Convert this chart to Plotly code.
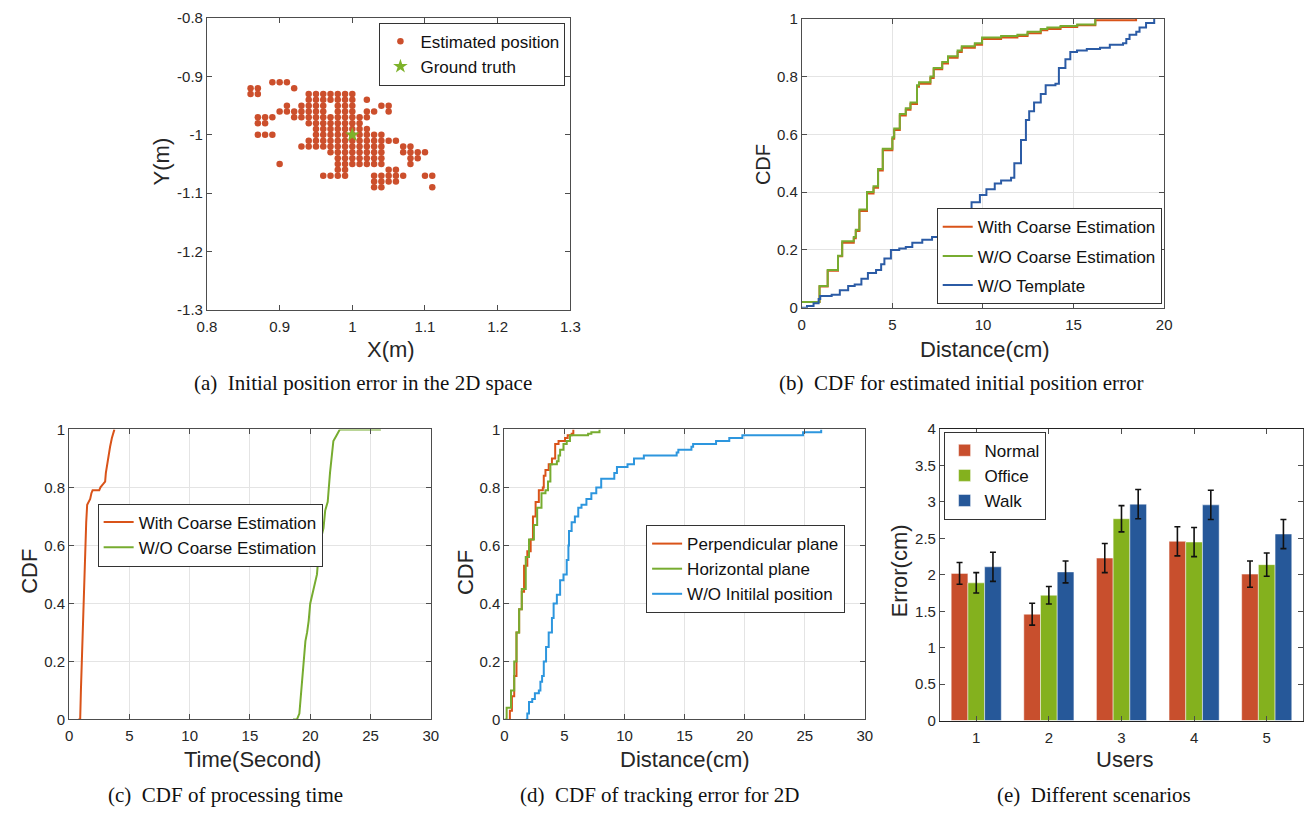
import plotly.graph_objects as go

# ---------------- (a) estimated initial positions ----------------
est_y_levels = [-0.91, -0.92, -0.93, -0.94, -0.95, -0.96, -0.97, -0.98, -0.99, -1.00,
                -1.01, -1.02, -1.03, -1.04, -1.05, -1.06, -1.07, -1.08, -1.09]
est_x_rows = [
    [0.89, 0.90, 0.91],
    [0.86, 0.87, 0.92],
    [0.86, 0.87, 0.94, 0.95, 0.96, 0.97, 0.98, 0.99, 1.00],
    [0.94, 0.95, 0.96, 0.97, 0.98, 0.99, 1.00, 1.02],
    [0.91, 0.93, 0.94, 0.95, 0.96, 0.98, 0.99, 1.00, 1.04, 1.05],
    [0.90, 0.91, 0.92, 0.93, 0.94, 0.95, 0.96, 0.98, 0.99, 1.00, 1.02, 1.03, 1.05],
    [0.87, 0.88, 0.89, 0.92, 0.93, 0.94, 0.95, 0.96, 0.97, 0.98, 0.99, 1.00, 1.01, 1.02],
    [0.87, 0.88, 0.94, 0.95, 0.96, 0.97, 0.98, 0.99, 1.00, 1.01],
    [0.95, 0.96, 0.97, 0.98, 0.99, 1.00, 1.01, 1.02],
    [0.87, 0.88, 0.89, 0.95, 0.96, 0.97, 0.98, 0.99, 1.00, 1.01, 1.02, 1.03, 1.04],
    [0.94, 0.95, 0.96, 0.97, 0.98, 0.99, 1.00, 1.01, 1.02, 1.03, 1.04, 1.05, 1.06],
    [0.93, 0.94, 0.95, 0.96, 0.97, 0.98, 0.99, 1.00, 1.01, 1.02, 1.03, 1.04, 1.07, 1.08],
    [0.97, 0.98, 0.99, 1.00, 1.01, 1.02, 1.03, 1.04, 1.07, 1.08, 1.09, 1.10],
    [0.98, 0.99, 1.00, 1.01, 1.02, 1.03, 1.04, 1.08, 1.09],
    [0.90, 0.98, 0.99, 1.00, 1.01, 1.02, 1.03, 1.04, 1.08],
    [0.98, 0.99, 1.05, 1.06],
    [0.96, 0.97, 0.98, 0.99, 1.03, 1.04, 1.05, 1.06, 1.07, 1.10, 1.11],
    [1.03, 1.04, 1.05, 1.06],
    [1.03, 1.04, 1.11],
]
truth_x = [1.0]
truth_y = [-1.0]
a_xticks = [0.8, 0.9, 1.0, 1.1, 1.2, 1.3]
a_xlabels = ["0.8", "0.9", "1", "1.1", "1.2", "1.3"]
a_yticks = [-0.8, -0.9, -1.0, -1.1, -1.2, -1.3]
a_ylabels = ["-0.8", "-0.9", "-1", "-1.1", "-1.2", "-1.3"]

# ---------------- (b) CDF of initial position error (cm) ----------------
b_with_x = [0, 0.98, 1.43, 2.0, 2.23, 2.87, 2.98, 3.18, 3.6, 3.96, 4.21, 4.47, 5.0, 5.1, 5.41,
            5.74, 6.0, 6.36, 6.47, 7.1, 7.28, 7.75, 8.07, 8.6, 8.83, 9.55, 9.95, 11.0, 11.9,
            12.46, 13.19, 13.55, 14.28, 15.2, 16.2, 18.45]
b_with_y = [0.02, 0.073, 0.128, 0.178, 0.225, 0.24, 0.265, 0.335, 0.395, 0.415, 0.475, 0.545,
            0.585, 0.615, 0.665, 0.685, 0.705, 0.765, 0.775, 0.795, 0.825, 0.845, 0.865, 0.885,
            0.9, 0.91, 0.93, 0.935, 0.94, 0.95, 0.96, 0.965, 0.972, 0.978, 0.995, 1.0]
b_wo_x = [0, 0.98, 1.43, 2.0, 2.23, 2.87, 2.98, 3.18, 3.6, 3.96, 4.21, 4.47, 5.0, 5.1, 5.41,
          5.74, 6.0, 6.36, 6.47, 7.1, 7.28, 7.75, 8.07, 8.6, 8.83, 9.55, 9.95, 11.0, 11.9,
          12.46, 13.19, 13.55, 14.28, 15.2, 16.2]
b_wo_y = [0.02, 0.075, 0.13, 0.18, 0.23, 0.245, 0.27, 0.34, 0.40, 0.42, 0.48, 0.55, 0.59, 0.62,
          0.67, 0.69, 0.71, 0.77, 0.78, 0.80, 0.83, 0.85, 0.87, 0.89, 0.905, 0.915, 0.935, 0.94,
          0.945, 0.955, 0.965, 0.97, 0.975, 0.98, 1.0]
b_tmpl_x = [0, 0.29, 0.65, 0.93, 1.02, 1.65, 2.1, 2.56, 2.92, 3.29, 3.65, 4.1, 4.38, 4.56, 4.92,
            5.38, 5.74, 6.1, 6.65, 7.19, 7.74, 8.1, 8.47, 8.92, 9.37, 9.83, 10.19, 10.65, 11.0,
            11.55, 11.73, 12.1, 12.37, 12.55, 12.82, 13.19, 13.46, 14.0, 14.19, 14.55, 14.82,
            15.19, 15.73, 16.46, 17.0, 17.73, 17.91, 18.09, 18.46, 18.64, 19.0, 19.45]
b_tmpl_y = [0, 0.006, 0.015, 0.03, 0.04, 0.045, 0.06, 0.075, 0.08, 0.10, 0.12, 0.13, 0.15, 0.17,
            0.20, 0.205, 0.21, 0.225, 0.235, 0.245, 0.26, 0.285, 0.31, 0.34, 0.365, 0.39, 0.41,
            0.43, 0.44, 0.45, 0.50, 0.58, 0.65, 0.68, 0.71, 0.74, 0.77, 0.775, 0.83, 0.86, 0.885,
            0.89, 0.895, 0.90, 0.91, 0.915, 0.93, 0.945, 0.955, 0.97, 0.985, 1.0]

# ---------------- (c) CDF of processing time (s) ----------------
c_with_x = [0.76, 0.92, 0.98, 1.05, 1.12, 1.2, 1.28, 1.35, 1.42, 1.5, 1.6, 1.75, 1.85, 1.95,
            2.5, 2.6, 2.8, 2.99, 3.05, 3.15, 3.3, 3.4, 3.55, 3.76]
c_with_y = [0, 0, 0.1, 0.2, 0.3, 0.4, 0.5, 0.6, 0.68, 0.74, 0.75, 0.76, 0.78, 0.79, 0.79, 0.80,
            0.81, 0.82, 0.85, 0.88, 0.91, 0.94, 0.97, 1.0]
c_wo_x = [18.57, 18.9, 19.1, 19.27, 19.47, 19.6, 19.74, 19.87, 20.0, 20.28, 20.56, 20.75, 21.1,
          21.24, 21.45, 21.64, 21.92, 22.19, 22.46, 25.86]
c_wo_y = [0, 0, 0.02, 0.1, 0.2, 0.27, 0.3, 0.34, 0.4, 0.45, 0.5, 0.6, 0.66, 0.72, 0.75, 0.85,
          0.96, 0.98, 1.0, 1.0]

# ---------------- (d) CDF of 2D tracking error (cm) ----------------
d_perp_x = [0.36, 0.46, 0.63, 0.82, 1.01, 1.23, 1.45, 1.64, 1.91, 2.19, 2.38, 2.6, 2.87, 3.2,
            3.28, 3.42, 3.69, 3.96, 4.23, 4.51, 5.05, 5.27, 5.6, 5.74]
d_perp_y = [0, 0.03, 0.08, 0.15, 0.3, 0.38, 0.44, 0.53, 0.58, 0.62, 0.70, 0.75, 0.79, 0.80,
            0.84, 0.86, 0.88, 0.90, 0.95, 0.96, 0.97, 0.98, 0.985, 1.0]
d_horiz_x = [0, 0.19, 0.55, 0.82, 1.01, 1.23, 1.45, 1.78, 2.05, 2.46, 2.73, 3.09, 3.42, 3.63,
             3.83, 4.37, 4.51, 4.64, 4.92, 5.19, 5.46, 6.97, 7.24, 7.92]
d_horiz_y = [0, 0.04, 0.10, 0.2, 0.3, 0.38, 0.45, 0.56, 0.62, 0.67, 0.73, 0.78, 0.79, 0.82,
             0.88, 0.89, 0.91, 0.93, 0.95, 0.96, 0.98, 0.985, 0.99, 1.0]
d_noinit_x = [1.78, 1.91, 2.05, 2.32, 2.54, 2.87, 3.0, 3.14, 3.28, 3.47, 3.69, 3.96, 4.1, 4.37,
              4.64, 4.92, 5.19, 5.33, 5.38, 5.6, 5.87, 6.15, 6.42, 6.83, 7.24, 7.65, 8.06, 9.15,
              9.37, 10.25, 10.79, 11.61, 14.34, 14.48, 15.57, 15.71, 17.62, 18.72, 19.81,
              24.86, 26.37]
d_noinit_y = [0, 0.02, 0.06, 0.07, 0.09, 0.1, 0.13, 0.15, 0.2, 0.25, 0.3, 0.35, 0.4, 0.43, 0.48,
              0.5, 0.55, 0.6, 0.65, 0.68, 0.7, 0.73, 0.74, 0.76, 0.78, 0.8, 0.83, 0.85, 0.87,
              0.88, 0.9, 0.91, 0.92, 0.93, 0.94, 0.95, 0.96, 0.97, 0.98, 0.99, 1.0]

# ---------------- (e) error per user and scenario ----------------
users = [1, 2, 3, 4, 5]
normal_err = [2.02, 1.46, 2.23, 2.46, 2.01]
normal_sd = [0.15, 0.15, 0.20, 0.20, 0.18]
office_err = [1.89, 1.72, 2.77, 2.45, 2.14]
office_sd = [0.14, 0.12, 0.18, 0.20, 0.16]
walk_err = [2.11, 2.04, 2.97, 2.96, 2.56]
walk_sd = [0.20, 0.15, 0.20, 0.20, 0.20]

# ---------------- styling ----------------
W, H = 1315, 818
SANS = "Liberation Sans"
SERIF = "Liberation Serif"
RED, GREEN = "#D95319", "#77AC30"
BLUE_DARK, BLUE_LIGHT = "#2B5BA5", "#2D96DE"
BAR_RED, BAR_GREEN, BAR_BLUE = "#C84F2D", "#84B11E", "#265899"
DOT = "#CC4F2C"


def fx(p):
    return p / W


def fy(p):
    return 1 - p / H


def axis(domain, rng, grid=False, **kw):
    d = dict(domain=domain, range=rng, showline=True, linecolor="#4d4d4d", linewidth=1,
             mirror="allticks", ticks="inside", ticklen=5, tickcolor="#4d4d4d",
             tickfont=dict(family=SANS, size=15, color="#262626"), zeroline=False,
             showgrid=grid, gridcolor="#E4E4E4", gridwidth=1, fixedrange=True)
    d.update(kw)
    return d


def legend_box(x, y, xa, ya, size=17, gap=0):
    return dict(x=x, y=y, xanchor=xa, yanchor=ya, bgcolor="white", bordercolor="#333333",
                borderwidth=1, font=dict(family=SANS, size=size, color="#111111"),
                itemwidth=30, tracegroupgap=gap, traceorder="grouped")


fig = go.Figure()

# (a)
est_x = [x for row in est_x_rows for x in row]
est_y = [y for y, row in zip(est_y_levels, est_x_rows) for _ in row]
fig.add_trace(go.Scatter(x=est_x, y=est_y, mode="markers", name="Estimated position",
                         marker=dict(color=DOT, size=6.5), xaxis="x", yaxis="y",
                         legend="legend", legendgroup="a1"))
fig.add_trace(go.Scatter(x=truth_x, y=truth_y, mode="markers", name="Ground truth",
                         marker=dict(color="#7DB22A", size=11, symbol="star"),
                         xaxis="x", yaxis="y", legend="legend", legendgroup="a2"))

# (b)
fig.add_trace(go.Scatter(x=b_with_x, y=b_with_y, mode="lines", line_shape="hv",
                         name="With Coarse Estimation", line=dict(color=RED, width=2),
                         xaxis="x2", yaxis="y2", legend="legend2", legendgroup="b1"))
fig.add_trace(go.Scatter(x=b_wo_x, y=b_wo_y, mode="lines", line_shape="hv",
                         name="W/O Coarse Estimation", line=dict(color=GREEN, width=2),
                         xaxis="x2", yaxis="y2", legend="legend2", legendgroup="b2"))
fig.add_trace(go.Scatter(x=b_tmpl_x, y=b_tmpl_y, mode="lines", line_shape="hv",
                         name="W/O Template", line=dict(color=BLUE_DARK, width=2),
                         xaxis="x2", yaxis="y2", legend="legend2", legendgroup="b3"))

# (c)
fig.add_trace(go.Scatter(x=c_with_x, y=c_with_y, mode="lines", name="With Coarse Estimation",
                         line=dict(color=RED, width=2), xaxis="x3", yaxis="y3",
                         legend="legend3", legendgroup="c1"))
fig.add_trace(go.Scatter(x=c_wo_x, y=c_wo_y, mode="lines", name="W/O Coarse Estimation",
                         line=dict(color=GREEN, width=2), xaxis="x3", yaxis="y3",
                         legend="legend3", legendgroup="c2"))

# (d)
fig.add_trace(go.Scatter(x=d_perp_x, y=d_perp_y, mode="lines", line_shape="hv",
                         name="Perpendicular plane", line=dict(color=RED, width=2),
                         xaxis="x4", yaxis="y4", legend="legend4", legendgroup="d1"))
fig.add_trace(go.Scatter(x=d_horiz_x, y=d_horiz_y, mode="lines", line_shape="hv",
                         name="Horizontal plane", line=dict(color=GREEN, width=2),
                         xaxis="x4", yaxis="y4", legend="legend4", legendgroup="d2"))
fig.add_trace(go.Scatter(x=d_noinit_x, y=d_noinit_y, mode="lines", line_shape="hv",
                         name="W/O Initilal position", line=dict(color=BLUE_LIGHT, width=2),
                         xaxis="x4", yaxis="y4", legend="legend4", legendgroup="d3"))

# (e)
for name, vals, sd, col, grp in [("Normal", normal_err, normal_sd, BAR_RED, "e1"),
                                 ("Office", office_err, office_sd, BAR_GREEN, "e2"),
                                 ("Walk", walk_err, walk_sd, BAR_BLUE, "e3")]:
    fig.add_trace(go.Bar(x=users, y=vals, name=name,
                         marker=dict(color=col, line=dict(color="rgba(255,255,255,0.6)", width=0.8)),
                         error_y=dict(type="data", array=sd, color="#111111", thickness=1.6,
                                      width=3),
                         xaxis="x5", yaxis="y5", legend="legend5", legendgroup=grp))

cdf_ticks = [0, 0.2, 0.4, 0.6, 0.8, 1]
top_y = [fy(307.3), fy(9.3)]
bot_y = [fy(725.5), fy(429.3)]

layout = dict(
    width=W, height=H, margin=dict(l=0, r=0, t=0, b=0), paper_bgcolor="white",
    plot_bgcolor="white", barmode="group", bargap=0.31, bargroupgap=0,
    xaxis=axis([fx(200), fx(569)], [0.8, 1.3], tickvals=a_xticks, ticktext=a_xlabels,
               anchor="y", ticklabelstandoff=3),
    yaxis=axis(top_y, [-1.3, -0.8], tickvals=a_yticks, ticktext=a_ylabels, anchor="x"),
    xaxis2=axis([fx(804), fx(1172)], [0, 20], grid=True, dtick=5, anchor="y2",
                ticklabelstandoff=3),
    yaxis2=axis([fy(305), fy(10)], [0, 1], grid=True, tickvals=cdf_ticks, anchor="x2"),
    xaxis3=axis([fx(60), fx(427.3)], [0, 30], grid=True, dtick=5, anchor="y3",
                ticklabelstandoff=3),
    yaxis3=axis(bot_y, [0, 1], grid=True, tickvals=cdf_ticks, anchor="x3"),
    xaxis4=axis([fx(502), fx(868)], [0, 30], grid=True, dtick=5, anchor="y4",
                ticklabelstandoff=3),
    yaxis4=axis(bot_y, [0, 1], grid=True, tickvals=cdf_ticks, anchor="x4"),
    xaxis5=axis([fx(944.3), fx(1313)], [0.5, 5.5], tickvals=users, anchor="y5",
                ticklabelstandoff=3, linecolor="#222222"),
    yaxis5=axis([fy(726.7), fy(429)], [0, 4], dtick=0.5, anchor="x5"),
    legend=legend_box(fx(564), fy(14), "right", "top", 17, 0),
    legend2=legend_box(fx(1169.5), fy(301.5), "right", "bottom", 17, 4),
    legend3=legend_box(fx(89), fy(505), "left", "top", 17, 0),
    legend4=legend_box(fx(848), fy(527), "right", "top", 17, 0),
    legend5=legend_box(fx(948), fy(431.7), "left", "top", 17, 0),
    showlegend=True,
)

annots = []


def label(text, x, y, size=22, angle=0, family=SANS, color="#262626"):
    annots.append(dict(text=text, x=fx(x), y=fy(y), xref="paper", yref="paper",
                       showarrow=False, xanchor="center", yanchor="middle", textangle=angle,
                       font=dict(family=family, size=size, color=color)))


# axis titles
label("X(m)", 387, 348)
label("Y(m)", 154, 156, angle=-90)
label("Distance(cm)", 990, 348)
label("CDF", 764, 159, size=20, angle=-90)
label("Time(Second)", 246, 766)
label("CDF", 19, 574, angle=-90)
label("Distance(cm)", 685, 766)
label("CDF", 462, 575, angle=-90)
label("Users", 1132, 766)
label("Error(cm)", 903, 574, angle=-90)

# sub-figure captions
CAP = 21
label("(a)  Initial position error in the 2D space", 358, 382, size=CAP, family=SERIF,
      color="#111111")
label("(b)  CDF for estimated initial position error", 966, 382, size=CAP, family=SERIF,
      color="#111111")
label("(c)  CDF of processing time", 219, 803, size=CAP, family=SERIF, color="#111111")
label("(d)  CDF of tracking error for 2D", 660, 803, size=CAP, family=SERIF, color="#111111")
label("(e)  Different scenarios", 1101, 803, size=CAP, family=SERIF, color="#111111")

layout["annotations"] = annots
fig.update_layout(**layout)

fig.write_html("out.html", config={"displayModeBar": False})
